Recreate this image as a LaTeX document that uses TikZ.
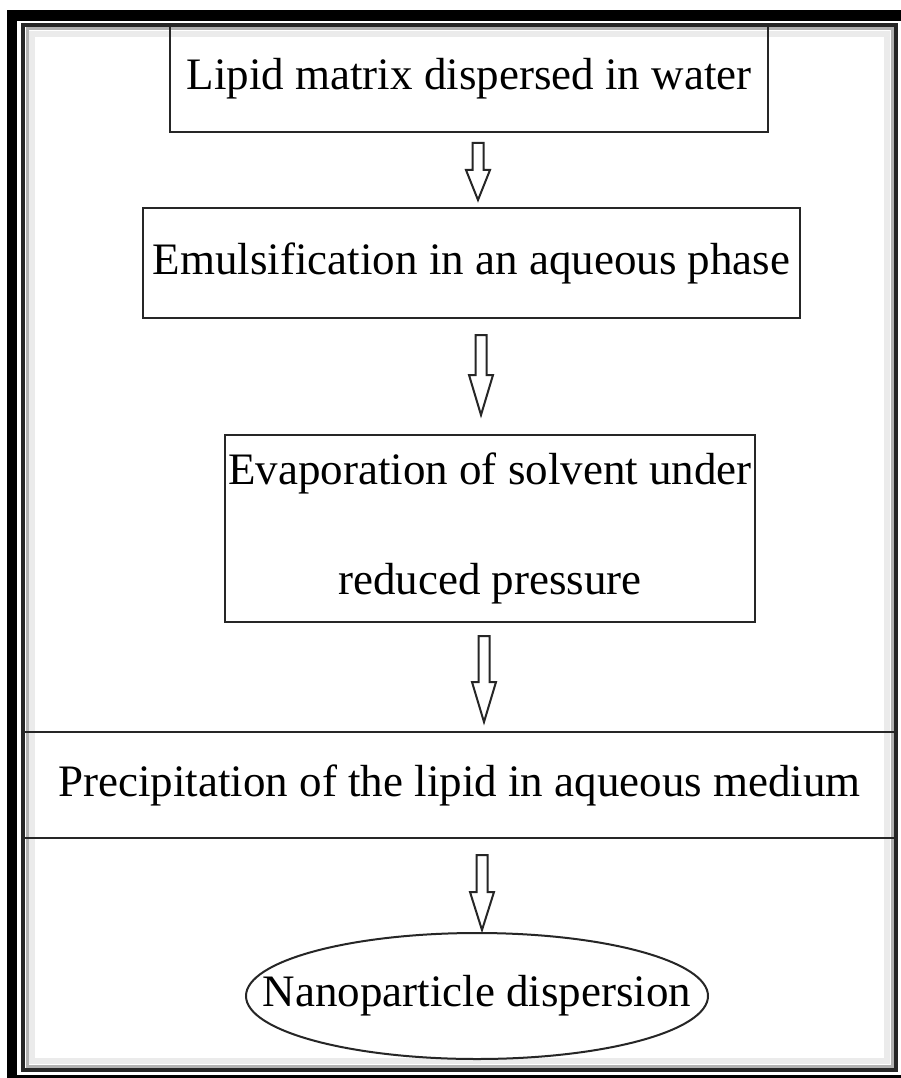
\documentclass[tikz,border=0pt]{standalone}
\usepackage{fontspec}
\setmainfont{Liberation Serif}
\begin{document}
\begin{tikzpicture}[x=1pt,y=-1pt,line join=miter,
  every node/.style={font=\fontsize{45}{110}\selectfont},
  stepbox/.style={draw=black!85,line width=2pt,inner sep=0pt,align=center},
  hollowarrow/.style={draw=black!85,line width=2pt,fill=white}]
  \useasboundingbox (0,0) rectangle (901,1078);
  % Outer black frame, cut at right and bottom, with shaded inner border.
  \fill[black] (7,10) rectangle (910,1085);
  \fill[white] (17,21) rectangle (910,1075);
  \draw[black!8,line width=6pt] (32,34) rectangle (887,1061);
  \draw[black!30,line width=3pt] (27,29) rectangle (892,1066);
  \draw[black!85,line width=4pt] (23,25) rectangle (896,1070);

  \node[stepbox,minimum width=598pt,minimum height=107pt] (lipid) at (469,78.5) {Lipid matrix dispersed in water};
  \node[stepbox,minimum width=530pt,minimum height=187pt] (evap) at (490,528.5) {Evaporation of solvent under\\reduced pressure};
  \node[stepbox,minimum width=657pt,minimum height=110pt] (emuls) at (471.5,263) {Emulsification in an aqueous phase};
  \node[stepbox,minimum width=871pt,minimum height=106pt] (precip) at (459.5,785) {Precipitation of the lipid in aqueous medium};
  \node[inner sep=0pt] (nano) at (477,996) {Nanoparticle dispersion};
  \draw[black!85,line width=2pt] (nano.center) ellipse [x radius=231,y radius=63];

  % hollow block arrows: x / shaft top / tip / head length
  \foreach \ax/\ya/\yb/\hl in {478/143/200/30, 481/335/415/40, 484/636/722/40, 482/855/930/38} {
    \draw[hollowarrow] (\ax-5.5,\ya) -- (\ax+5.5,\ya) -- (\ax+5.5,\yb-\hl) -- (\ax+12,\yb-\hl)
      -- (\ax,\yb) -- (\ax-12,\yb-\hl) -- (\ax-5.5,\yb-\hl) -- cycle;
  }
\end{tikzpicture}
\end{document}
